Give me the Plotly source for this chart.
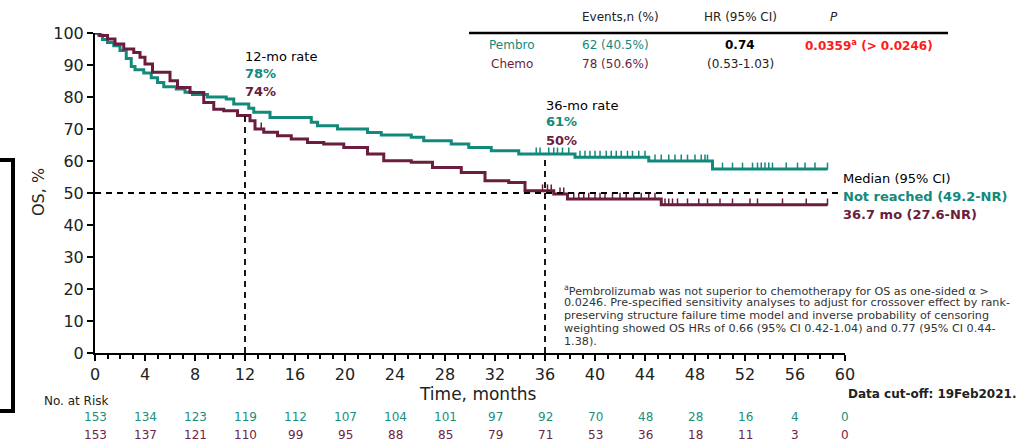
import numpy as np
import plotly.graph_objects as go

# ---------------- data ----------------
pembro_t = [0, 0.3, 0.6, 1.0, 1.5, 2.0, 2.5, 2.9, 3.2, 3.9, 4.5, 5.0, 5.5, 6.5, 7.2, 7.8, 9.0, 10.5, 11.1,
            12.3, 12.7, 14.0, 17.3, 17.8, 19.4, 21.8, 22.9, 25.3, 26.3, 28.5, 29.9, 31.7, 33.9, 38.4,
            44.3, 49.4, 58.6]
pembro_s = [100, 99.3, 98.0, 97.0, 96.0, 94.5, 92.0, 89.5, 88.5, 87.5, 86.0, 84.5, 83.2, 82.5, 81.5, 80.8,
            80.0, 79.4, 77.8, 76.5, 75.2, 73.6, 72.1, 71.0, 70.0, 68.9, 68.1, 67.4, 66.3, 65.3, 64.2,
            63.2, 62.2, 61.2, 60.0, 57.5, 57.5]

chemo_t = [0, 0.4, 1.0, 1.6, 2.3, 3.1, 3.6, 4.0, 4.6, 6.0, 6.6, 7.6, 8.7, 9.5, 10.3, 11.4, 12.4, 12.8,
           13.5, 14.6, 15.7, 17.0, 18.3, 19.9, 21.8, 23.1, 25.3, 27.0, 29.3, 31.2, 33.1, 34.4, 36.7,
           37.8, 45.3, 58.6]
chemo_s = [100, 99.2, 98.1, 96.6, 95.0, 93.9, 92.4, 90.3, 87.7, 85.1, 83.0, 81.4, 78.3, 76.2, 75.7, 74.2,
           72.6, 70.0, 69.0, 67.9, 66.9, 65.8, 65.3, 64.2, 62.2, 60.1, 59.6, 58.0, 56.4, 53.8, 53.3,
           50.7, 49.7, 48.1, 46.3, 46.3]

pembro_cens = [35.3, 35.6, 36.3, 36.7, 37.0, 37.4, 37.9, 38.8, 39.2, 39.6, 40.0, 40.4, 40.9, 41.3, 41.7,
               42.1, 42.6, 43.0, 43.5, 44.0, 44.8, 45.3, 45.9, 46.4, 46.9, 47.4, 48.0, 48.5, 48.8, 49.0,
               50.2, 51.0, 51.8, 52.6, 53.0, 53.3, 53.6, 53.9, 54.2, 55.3, 56.2, 56.8, 57.6, 58.6]
chemo_cens = [13.3, 35.8, 36.2, 36.5, 37.2, 37.5, 38.3, 38.7, 39.1, 39.5, 40.0, 40.4, 40.8, 41.4, 42.0,
              42.5, 43.1, 43.7, 44.3, 44.8, 45.6, 45.9, 46.2, 46.6, 47.4, 48.3, 49.0, 50.0, 51.0, 52.4,
              53.0, 55.0, 56.9, 58.6]

risk_months = [0, 4, 8, 12, 16, 20, 24, 28, 32, 36, 40, 44, 48, 52, 56, 60]
pembro_risk = [153, 134, 123, 119, 112, 107, 104, 101, 97, 92, 70, 48, 28, 16, 4, 0]
chemo_risk = [153, 137, 121, 110, 99, 95, 88, 85, 79, 71, 53, 36, 18, 11, 3, 0]

rate12 = {"pembro": 78, "chemo": 74}
rate36 = {"pembro": 61, "chemo": 50}
median_level = 50

TEAL = "#12897A"
MAROON = "#6B1D3D"
FONT = "DejaVu Sans"

# ---------------- helpers ----------------
L, R, T, B = 95, 845, 33, 353
def px(x):
    return (x - L) / (R - L)
def py(y):
    return (B - y) / (B - T)

def step_val(ts, ss, c):
    i = np.searchsorted(np.array(ts), c, side="right") - 1
    return np.array(ss)[i]

fig = go.Figure()

for ts, ss, cens, col, name in [(pembro_t, pembro_s, pembro_cens, TEAL, "Pembro"),
                                 (chemo_t, chemo_s, chemo_cens, MAROON, "Chemo")]:
    fig.add_trace(go.Scatter(x=ts, y=ss, mode="lines", line=dict(color=col, width=3, shape="hv"),
                             name=name, showlegend=False, cliponaxis=False, hoverinfo="skip"))
    cy = step_val(ts, ss, cens) + 0.9
    fig.add_trace(go.Scatter(x=cens, y=cy, mode="markers",
                             marker=dict(symbol="line-ns", size=5, line=dict(color=col, width=1.5)),
                             showlegend=False, cliponaxis=False, hoverinfo="skip"))

# dashed reference lines
dash = dict(color="black", width=1.8, dash="6px,5px")
fig.add_shape(type="line", xref="x", yref="y", x0=12, x1=12, y0=0, y1=rate12["chemo"], line=dash)
fig.add_shape(type="line", xref="x", yref="y", x0=36, x1=36, y0=0, y1=rate36["pembro"], line=dash)
fig.add_shape(type="line", xref="x", yref="y", x0=0, x1=59.5, y0=median_level, y1=median_level, line=dash)

ann = []
def A(x, y, text, size=13, color="black", xanchor="left", xref="paper", yref="paper", **kw):
    ann.append(dict(x=x, y=y, xref=xref, yref=yref, text=text, showarrow=False, xanchor=xanchor,
                    yanchor="middle", font=dict(family=FONT, size=size, color=color), **kw))

# rate labels
A(px(243), py(57), "12-mo rate", 13)
A(px(243), py(73), f"<b>{rate12['pembro']}%</b>", 13, TEAL)
A(px(243), py(91), f"<b>{rate12['chemo']}%</b>", 13, MAROON)
A(px(544), py(105), "36-mo rate", 13)
A(px(544), py(122), f"<b>{rate36['pembro']}%</b>", 13, TEAL)
A(px(544), py(140), f"<b>{rate36['chemo']}%</b>", 13, MAROON)

# median text
A(px(841), py(178), "Median (95% CI)", 13)
A(px(841), py(196), "<b>Not reached (49.2-NR)</b>", 13, TEAL)
A(px(841), py(214), "<b>36.7 mo (27.6-NR)</b>", 13, MAROON)

# table
A(px(620), py(17), "Events,n (%)", 12, "#222", xanchor="center")
A(px(740), py(17), "HR (95% CI)", 12, "#222", xanchor="center")
A(px(834), py(17), "<i>P</i>", 12, "#222", xanchor="center")
A(px(512), py(45), "Pembro", 12, TEAL, xanchor="center")
A(px(512), py(64), "Chemo", 12, MAROON, xanchor="center")
A(px(615), py(45), "62 (40.5%)", 12, TEAL, xanchor="center")
A(px(615), py(64), "78 (50.6%)", 12, MAROON, xanchor="center")
A(px(740), py(45), "<b>0.74</b>", 12, "black", xanchor="center")
A(px(740), py(64), "(0.53-1.03)", 12, "#222", xanchor="center")
A(px(803), py(45), "<b>0.0359<sup>a</sup> (&gt; 0.0246)</b>", 12, "#FF1A1A")
fig.add_shape(type="line", xref="paper", yref="paper", x0=px(469), x1=px(948), y0=py(33), y1=py(33),
              line=dict(color="black", width=2.5))

# footnote
foot = ["<sup>a</sup>Pembrolizumab was not superior to chemotherapy for OS as one-sided α >",
        "0.0246. Pre-specified sensitivity analyses to adjust for crossover effect by rank-",
        "preserving structure failure time model and inverse probability of censoring",
        "weighting showed OS HRs of 0.66 (95% CI 0.42-1.04) and 0.77 (95% CI 0.44-",
        "1.38)."]
for i, line in enumerate(foot):
    A(px(562), py(290 + 12.9 * i), line, 11.2, "#333")

# axis titles etc
A(px(478), py(394), "Time, months", 17, "#222", xanchor="center")
A(px(1018), py(394), "<b>Data cut-off: 19Feb2021.</b>", 12, "#222", xanchor="right")
A(px(38), py(192), "OS, %", 16, "#222", xanchor="center", textangle=-90)
A(px(42), py(401), "No. at Risk", 12, "#222")
for m, a, b in zip(risk_months, pembro_risk, chemo_risk):
    A(m, py(417), str(a), 12, "#1B8E7E", xanchor="center", xref="x")
    A(m, py(435), str(b), 12, "#6E2444", xanchor="center", xref="x")

# bracket on the left
fig.add_shape(type="path", xref="paper", yref="paper",
              path=f"M {px(0)} {py(160)} L {px(13)} {py(160)} L {px(13)} {py(411)} L {px(0)} {py(411)}",
              line=dict(color="black", width=4))

fig.update_layout(
    width=1023, height=441,
    margin=dict(l=L, r=1023 - R, t=T, b=441 - B, pad=0),
    paper_bgcolor="white", plot_bgcolor="white",
    annotations=ann,
    showlegend=False,
    font=dict(family=FONT),
    xaxis=dict(range=[0, 60], tickvals=risk_months, ticks="outside", ticklen=6, tickwidth=2,
               tickcolor="black", showline=True, linecolor="black", linewidth=2, showgrid=False,
               zeroline=False, tickfont=dict(size=16, color="#222", family=FONT),
               minor=dict(dtick=1, ticks="outside", ticklen=4, tickwidth=1.5, tickcolor="black")),
    yaxis=dict(range=[0, 100], tickvals=list(range(0, 101, 10)), ticks="outside", ticklen=6, tickwidth=2,
               tickcolor="black", showline=True, linecolor="black", linewidth=2, showgrid=False,
               zeroline=False, tickfont=dict(size=16, color="#222", family=FONT)),
)

fig.write_html("out.html")
